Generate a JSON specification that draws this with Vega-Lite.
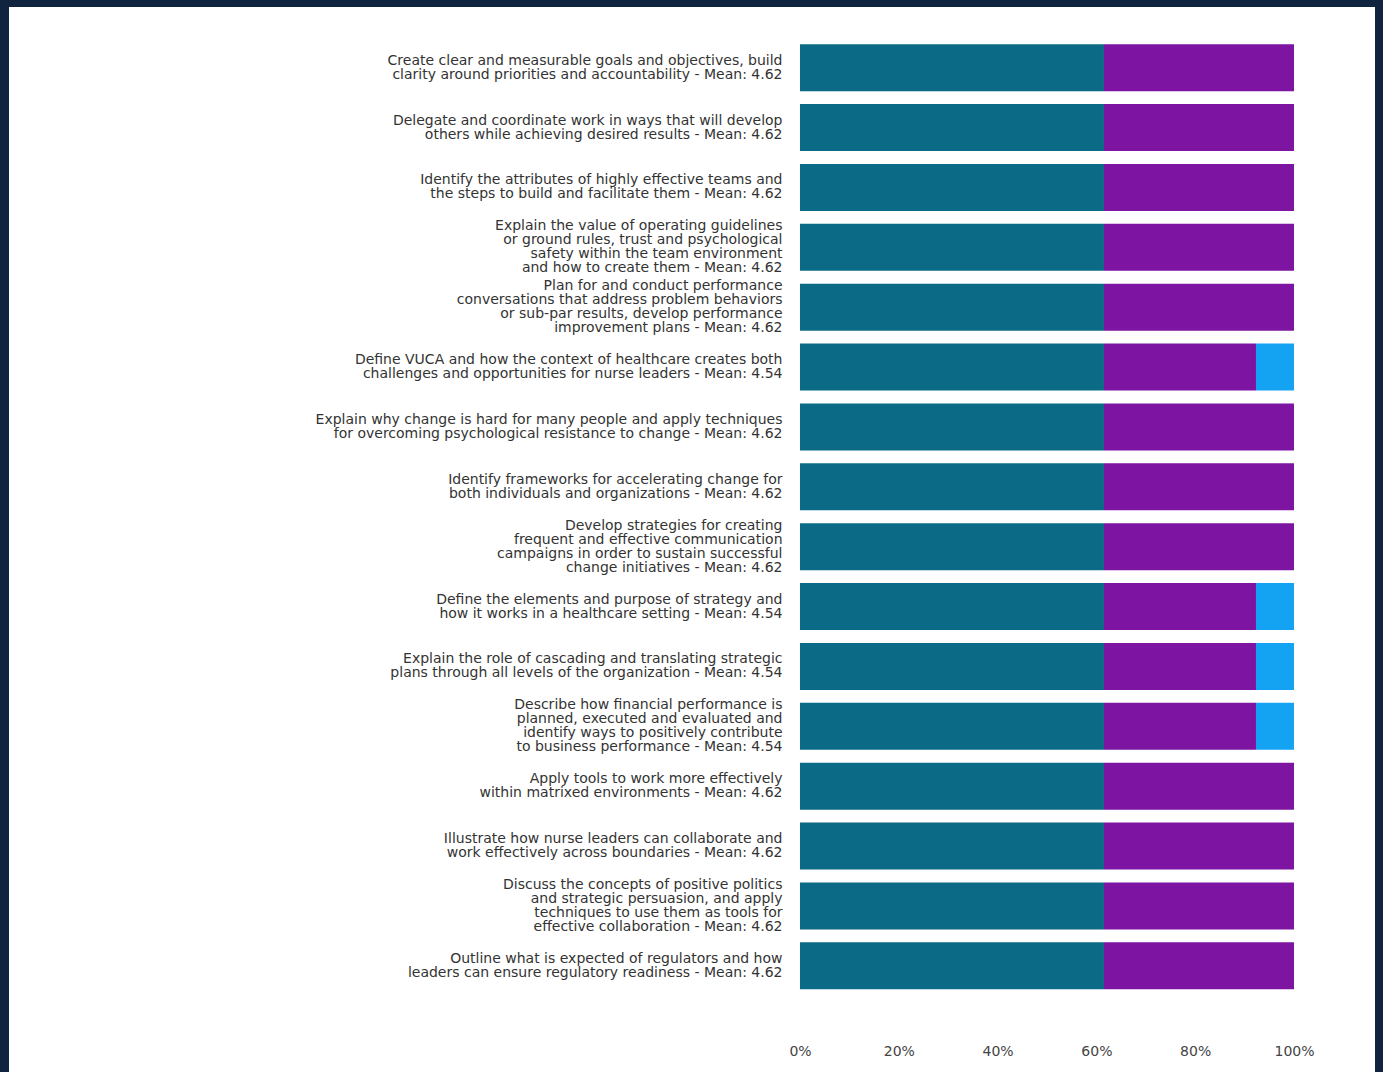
{
  "$schema": "https://vega.github.io/schema/vega-lite/v6.json",
  "width": 1366,
  "height": 1065,
  "autosize": {"type": "none"},
  "padding": {"top": 7, "left": 9, "right": 8, "bottom": 0},
  "background": "#10233f",
  "config": {"view": {"fill": "white", "stroke": null}},
  "data": {"values": [
    {"objective": "Create clear and measurable goals and objectives, build|clarity around priorities and accountability - Mean: 4.62", "response": "Strongly Agree", "score": 5, "count": 8},
    {"objective": "Create clear and measurable goals and objectives, build|clarity around priorities and accountability - Mean: 4.62", "response": "Agree", "score": 4, "count": 5},
    {"objective": "Delegate and coordinate work in ways that will develop|others while achieving desired results - Mean: 4.62", "response": "Strongly Agree", "score": 5, "count": 8},
    {"objective": "Delegate and coordinate work in ways that will develop|others while achieving desired results - Mean: 4.62", "response": "Agree", "score": 4, "count": 5},
    {"objective": "Identify the attributes of highly effective teams and|the steps to build and facilitate them - Mean: 4.62", "response": "Strongly Agree", "score": 5, "count": 8},
    {"objective": "Identify the attributes of highly effective teams and|the steps to build and facilitate them - Mean: 4.62", "response": "Agree", "score": 4, "count": 5},
    {"objective": "Explain the value of operating guidelines|or ground rules, trust and psychological|safety within the team environment|and how to create them - Mean: 4.62", "response": "Strongly Agree", "score": 5, "count": 8},
    {"objective": "Explain the value of operating guidelines|or ground rules, trust and psychological|safety within the team environment|and how to create them - Mean: 4.62", "response": "Agree", "score": 4, "count": 5},
    {"objective": "Plan for and conduct performance|conversations that address problem behaviors|or sub-par results, develop performance|improvement plans - Mean: 4.62", "response": "Strongly Agree", "score": 5, "count": 8},
    {"objective": "Plan for and conduct performance|conversations that address problem behaviors|or sub-par results, develop performance|improvement plans - Mean: 4.62", "response": "Agree", "score": 4, "count": 5},
    {"objective": "Define VUCA and how the context of healthcare creates both|challenges and opportunities for nurse leaders - Mean: 4.54", "response": "Strongly Agree", "score": 5, "count": 8},
    {"objective": "Define VUCA and how the context of healthcare creates both|challenges and opportunities for nurse leaders - Mean: 4.54", "response": "Agree", "score": 4, "count": 4},
    {"objective": "Define VUCA and how the context of healthcare creates both|challenges and opportunities for nurse leaders - Mean: 4.54", "response": "Neutral", "score": 3, "count": 1},
    {"objective": "Explain why change is hard for many people and apply techniques|for overcoming psychological resistance to change - Mean: 4.62", "response": "Strongly Agree", "score": 5, "count": 8},
    {"objective": "Explain why change is hard for many people and apply techniques|for overcoming psychological resistance to change - Mean: 4.62", "response": "Agree", "score": 4, "count": 5},
    {"objective": "Identify frameworks for accelerating change for|both individuals and organizations - Mean: 4.62", "response": "Strongly Agree", "score": 5, "count": 8},
    {"objective": "Identify frameworks for accelerating change for|both individuals and organizations - Mean: 4.62", "response": "Agree", "score": 4, "count": 5},
    {"objective": "Develop strategies for creating|frequent and effective communication|campaigns in order to sustain successful|change initiatives - Mean: 4.62", "response": "Strongly Agree", "score": 5, "count": 8},
    {"objective": "Develop strategies for creating|frequent and effective communication|campaigns in order to sustain successful|change initiatives - Mean: 4.62", "response": "Agree", "score": 4, "count": 5},
    {"objective": "Define the elements and purpose of strategy and|how it works in a healthcare setting - Mean: 4.54", "response": "Strongly Agree", "score": 5, "count": 8},
    {"objective": "Define the elements and purpose of strategy and|how it works in a healthcare setting - Mean: 4.54", "response": "Agree", "score": 4, "count": 4},
    {"objective": "Define the elements and purpose of strategy and|how it works in a healthcare setting - Mean: 4.54", "response": "Neutral", "score": 3, "count": 1},
    {"objective": "Explain the role of cascading and translating strategic|plans through all levels of the organization - Mean: 4.54", "response": "Strongly Agree", "score": 5, "count": 8},
    {"objective": "Explain the role of cascading and translating strategic|plans through all levels of the organization - Mean: 4.54", "response": "Agree", "score": 4, "count": 4},
    {"objective": "Explain the role of cascading and translating strategic|plans through all levels of the organization - Mean: 4.54", "response": "Neutral", "score": 3, "count": 1},
    {"objective": "Describe how financial performance is|planned, executed and evaluated and|identify ways to positively contribute|to business performance - Mean: 4.54", "response": "Strongly Agree", "score": 5, "count": 8},
    {"objective": "Describe how financial performance is|planned, executed and evaluated and|identify ways to positively contribute|to business performance - Mean: 4.54", "response": "Agree", "score": 4, "count": 4},
    {"objective": "Describe how financial performance is|planned, executed and evaluated and|identify ways to positively contribute|to business performance - Mean: 4.54", "response": "Neutral", "score": 3, "count": 1},
    {"objective": "Apply tools to work more effectively|within matrixed environments - Mean: 4.62", "response": "Strongly Agree", "score": 5, "count": 8},
    {"objective": "Apply tools to work more effectively|within matrixed environments - Mean: 4.62", "response": "Agree", "score": 4, "count": 5},
    {"objective": "Illustrate how nurse leaders can collaborate and|work effectively across boundaries - Mean: 4.62", "response": "Strongly Agree", "score": 5, "count": 8},
    {"objective": "Illustrate how nurse leaders can collaborate and|work effectively across boundaries - Mean: 4.62", "response": "Agree", "score": 4, "count": 5},
    {"objective": "Discuss the concepts of positive politics|and strategic persuasion, and apply|techniques to use them as tools for|effective collaboration - Mean: 4.62", "response": "Strongly Agree", "score": 5, "count": 8},
    {"objective": "Discuss the concepts of positive politics|and strategic persuasion, and apply|techniques to use them as tools for|effective collaboration - Mean: 4.62", "response": "Agree", "score": 4, "count": 5},
    {"objective": "Outline what is expected of regulators and how|leaders can ensure regulatory readiness - Mean: 4.62", "response": "Strongly Agree", "score": 5, "count": 8},
    {"objective": "Outline what is expected of regulators and how|leaders can ensure regulatory readiness - Mean: 4.62", "response": "Agree", "score": 4, "count": 5}
  ]},
  "mark": {"type": "bar", "orient": "horizontal"},
  "encoding": {
    "y": {
      "field": "objective",
      "type": "nominal",
      "sort": null,
      "scale": {"paddingInner": 0.215, "paddingOuter": 1.0, "align": 0.31},
      "axis": {
        "title": null,
        "orient": "left",
        "offset": -791,
        "domain": false,
        "ticks": false,
        "labelPadding": 18,
        "labelLimit": 1000,
        "labelExpr": "split(datum.label, '|')",
        "labelOffset": {"condition": {"test": "length(split(datum.value, '|')) >= 4", "value": -21}, "value": -7},
        "labelFont": "DejaVu Sans",
        "labelFontSize": 14,
        "labelLineHeight": 14,
        "labelColor": "#333333"
      }
    },
    "x": {
      "field": "count",
      "type": "quantitative",
      "stack": "normalize",
      "scale": {"domain": [-1.6012, 1.164], "nice": false, "zero": false},
      "axis": {
        "title": null,
        "values": [0, 0.2, 0.4, 0.6, 0.8, 1],
        "format": ".0%",
        "grid": false,
        "domain": false,
        "ticks": false,
        "offset": -30,
        "labelPadding": 2,
        "labelFlush": false,
        "labelFont": "DejaVu Sans",
        "labelFontSize": 14,
        "labelColor": "#444444"
      }
    },
    "color": {
      "field": "response",
      "type": "nominal",
      "scale": {"domain": ["Strongly Agree", "Agree", "Neutral"], "range": ["#0b6b86", "#7d14a2", "#14a3f3"]},
      "legend": null
    },
    "order": {"field": "score", "type": "quantitative", "sort": "descending"}
  }
}
